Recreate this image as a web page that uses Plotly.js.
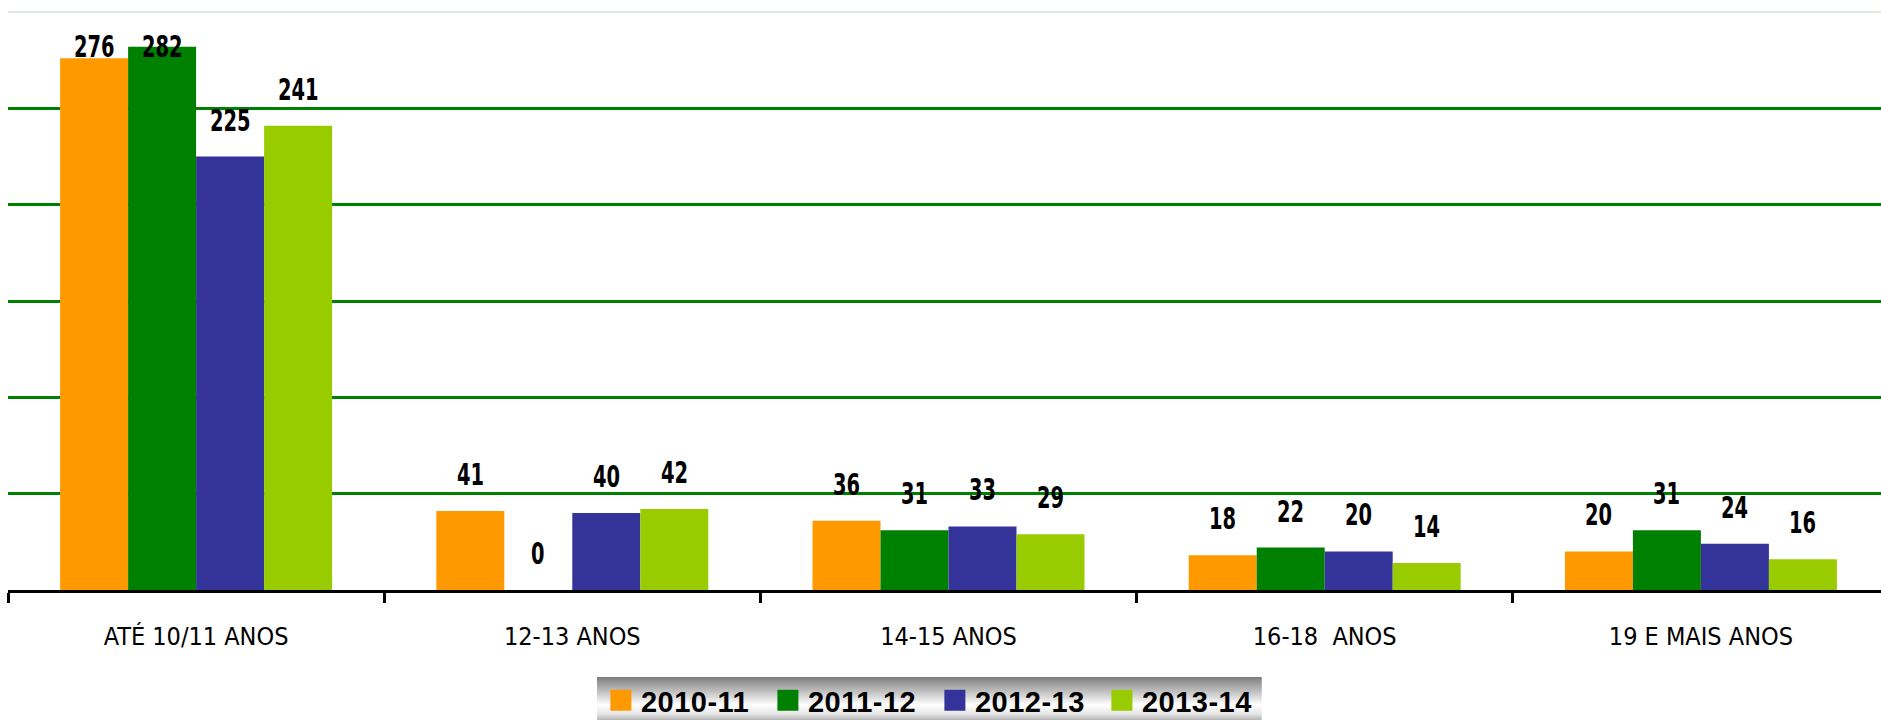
<!DOCTYPE html>
<html><head><meta charset="utf-8">
<script src="https://cdn.plot.ly/plotly-3.0.1.min.js"></script>
<style>
html,body{margin:0;padding:0;overflow:hidden;background:#fff;}
#chart{width:1890px;height:720px;}
.annotation-text{transform-box:fill-box;transform-origin:center;transform:scaleX(0.72);}
.legendtext{letter-spacing:0.5px;}
</style>
</head><body><div id="chart"></div>
<script>
const categories = ['ATÉ 10/11 ANOS', '12-13 ANOS', '14-15 ANOS', '16-18\u00a0 ANOS', '19 E MAIS ANOS'];
const seriesNames = ['2010-11', '2011-12', '2012-13', '2013-14'];
const values2010_11 = [276, 41, 36, 18, 20];
const values2011_12 = [282, 0, 31, 22, 31];
const values2012_13 = [225, 40, 33, 20, 24];
const values2013_14 = [241, 42, 29, 14, 16];
const seriesColors = ['#FF9900', '#008000', '#333399', '#99CC00'];
const gridValues = [50, 100, 150, 200, 250];
const yMax = 300;

const allSeries = [values2010_11, values2011_12, values2012_13, values2013_14];
const BARGAP = 0.277;
const nS = allSeries.length;
const LABEL_CAP = 263; // labels are kept inside the plot area near the top

const condensed = '"DejaVu Sans Condensed", "Liberation Sans Narrow", "Arial Narrow", sans-serif';

const traces = [];
allSeries.forEach((vals, i) => {
  traces.push({
    type: 'bar', x: categories, y: vals, name: seriesNames[i],
    marker: {color: seriesColors[i], line: {width: 0}},
    showlegend: false, hoverinfo: 'skip'
  });
});
// legend entries (square swatches)
allSeries.forEach((vals, i) => {
  traces.push({
    type: 'scatter', mode: 'markers', x: [null], y: [null], name: seriesNames[i],
    marker: {symbol: 'square', size: 16, color: seriesColors[i], line: {color: seriesColors[i], width: 5}},
    showlegend: true, hoverinfo: 'skip'
  });
});

// value labels
const annotations = [];
allSeries.forEach((vals, i) => {
  vals.forEach((v, j) => {
    annotations.push({
      xref: 'x', yref: 'y', x: j + (i - (nS - 1) / 2) * (1 - BARGAP) / nS, y: Math.min(v, LABEL_CAP),
      text: String(v), showarrow: false, yanchor: 'bottom', yshift: 18,
      font: {family: condensed, size: 30, color: '#000', weight: 'bold'}
    });
  });
});

const gradSvg = "<svg xmlns='http://www.w3.org/2000/svg' width='100' height='100' preserveAspectRatio='none'>" +
  "<defs><linearGradient id='g' x1='0' y1='0' x2='0' y2='1'>" +
  "<stop offset='0' stop-color='#7d7d7d'/><stop offset='0.3' stop-color='#bdbdbd'/>" +
  "<stop offset='0.6' stop-color='#ffffff'/><stop offset='0.8' stop-color='#e6e6e6'/><stop offset='1' stop-color='#9a9a9a'/>" +
  "</linearGradient></defs><rect width='100' height='100' fill='url(#g)'/></svg>";
const gradUri = 'data:image/svg+xml;charset=utf-8,' + encodeURIComponent(gradSvg);

const layout = {
  width: 1890, height: 720,
  margin: {l: 8, r: 1, t: 12, b: 130, autoexpand: false},
  paper_bgcolor: '#ffffff', plot_bgcolor: '#ffffff',
  barmode: 'group', bargap: BARGAP, bargroupgap: 0,
  showlegend: true,
  xaxis: {
    type: 'category', showgrid: false, zeroline: false,
    showline: true, linecolor: '#000', linewidth: 3,
    ticks: 'outside', tickson: 'boundaries', ticklen: 10, tickwidth: 3, tickcolor: '#000',
    tickfont: {family: condensed, size: 25, color: '#000'},
    ticklabelstandoff: 22, fixedrange: true
  },
  yaxis: {
    range: [0, yMax], tickvals: gridValues, showticklabels: false,
    showgrid: true, gridcolor: '#008000', gridwidth: 3,
    zeroline: false, showline: false, ticks: '', fixedrange: true
  },
  shapes: [{type: 'line', xref: 'paper', yref: 'paper', x0: 0, x1: 1, y0: 1, y1: 1,
    line: {color: '#dfe9df', width: 2}}],
  images: [{source: gradUri, xref: 'paper', yref: 'paper', x: 0.3131, y: -0.1505,
    sizex: 0.3535, sizey: 0.08, xanchor: 'left', yanchor: 'top', sizing: 'stretch', layer: 'below'}],
  legend: {
    orientation: 'h', x: 0.3152, xanchor: 'left', y: -0.147, yanchor: 'top',
    bgcolor: 'rgba(0,0,0,0)', borderwidth: 0, entrywidth: 122, entrywidthmode: 'pixels',
    font: {family: '"Liberation Sans", Arial, sans-serif', size: 29, color: '#000', weight: 'bold'},
    itemclick: false, itemdoubleclick: false
  },
  annotations: annotations
};

Plotly.newPlot('chart', traces, layout, {displayModeBar: false, staticPlot: true});
</script>
</body></html>
